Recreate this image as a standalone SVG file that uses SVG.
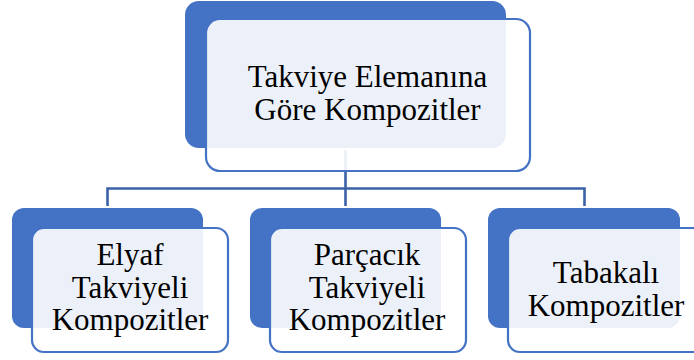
<svg xmlns="http://www.w3.org/2000/svg" width="694" height="360" viewBox="0 0 694 360">
<style>
.back{fill:#4472c4;}
.front{fill:#ffffff;fill-opacity:0.9;stroke:#4472c4;stroke-width:2.2;}
.conn{stroke:#3b62a8;stroke-width:2.6;fill:none;}
.t{font-family:'Liberation Serif','Times New Roman','DejaVu Serif',serif;font-size:31px;fill:#000;text-anchor:middle;}
</style>
<rect width="694" height="360" fill="#ffffff"/>
<g id="connectors">
<path class="conn" d="M345.5,150 V188.5 M107.5,188.5 H584.5 M107.5,187.2 V206 M345.5,188.5 V206 M584.5,187.2 V206"/>
</g>
<g id="top">
<rect class="back" x="185" y="1" width="321" height="147" rx="14"/>
<rect class="front" x="206" y="19" width="324" height="152" rx="14"/>
<text class="t" font-family="Liberation Serif, serif" x="367.5" y="87">Takviye Elemanına</text>
<text class="t" font-family="Liberation Serif, serif" x="367.5" y="120">Göre Kompozitler</text>
</g>
<g id="elyaf">
<rect class="back" x="12" y="208" width="191" height="120" rx="12"/>
<rect class="front" x="32" y="228" width="196" height="124" rx="12"/>
<text class="t" font-family="Liberation Serif, serif" x="130" y="265">Elyaf</text>
<text class="t" font-family="Liberation Serif, serif" x="130" y="298">Takviyeli</text>
<text class="t" font-family="Liberation Serif, serif" x="130" y="330">Kompozitler</text>
</g>
<g id="parcacik">
<rect class="back" x="250" y="208" width="191" height="120" rx="12"/>
<rect class="front" x="270" y="228" width="196" height="124" rx="12"/>
<text class="t" font-family="Liberation Serif, serif" x="367" y="265">Parçacık</text>
<text class="t" font-family="Liberation Serif, serif" x="367" y="298">Takviyeli</text>
<text class="t" font-family="Liberation Serif, serif" x="367" y="330">Kompozitler</text>
</g>
<g id="tabakali">
<rect class="back" x="488" y="208" width="192" height="120" rx="12"/>
<rect class="front" x="508" y="228" width="196" height="124" rx="12"/>
<text class="t" font-family="Liberation Serif, serif" x="606" y="283">Tabakalı</text>
<text class="t" font-family="Liberation Serif, serif" x="606" y="316">Kompozitler</text>
</g>
</svg>
